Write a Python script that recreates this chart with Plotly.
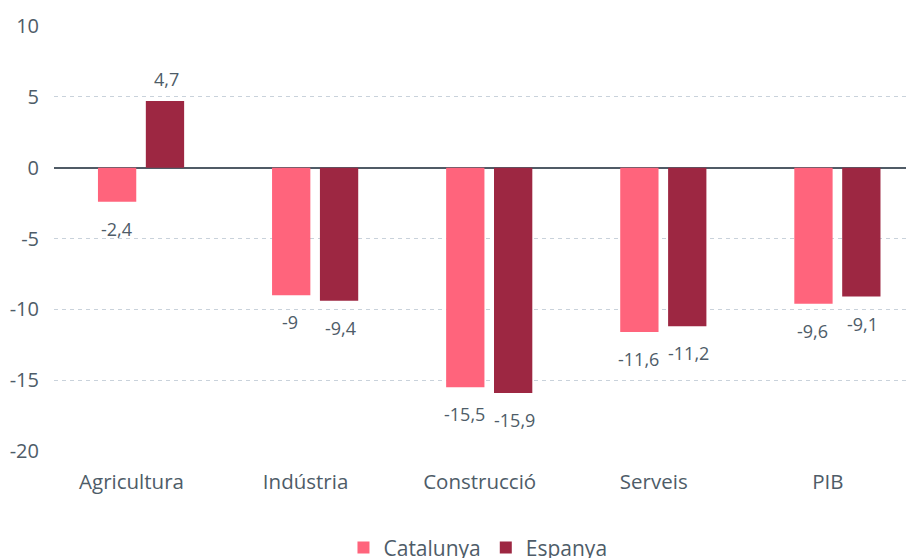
import plotly.graph_objects as go

categories = ["Agricultura", "Indústria", "Construcció", "Serveis", "PIB"]
catalunya = [-2.4, -9.0, -15.5, -11.6, -9.6]
espanya = [4.7, -9.4, -15.9, -11.2, -9.1]
y_ticks = [10, 5, 0, -5, -10, -15, -20]

C_CAT = "#ff647c"
C_ESP = "#9d2742"
TXT = "#4e5c68"
FONT = "Open Sans"

def fmt(v):
    s = ("%.1f" % v).rstrip("0").rstrip(".")
    return s.replace(".", ",")

xpos = list(range(len(categories)))

fig = go.Figure()
fig.add_trace(go.Bar(name="Catalunya", x=xpos, y=catalunya, marker=dict(color=C_CAT, line=dict(width=0))))
fig.add_trace(go.Bar(name="Espanya", x=xpos, y=espanya, marker=dict(color=C_ESP, line=dict(width=0))))

ann = []
for series, shift in ((catalunya, -25), (espanya, 25)):
    for xi, v in zip(xpos, series):
        ann.append(dict(x=xi, y=v, text=fmt(v), showarrow=False, xshift=shift,
                        yshift=(-27 if v < 0 else 22), yanchor="middle",
                        font=dict(family=FONT, size=18, color=TXT)))

fig.update_layout(
    width=914, height=558,
    margin=dict(l=46, r=8, t=18, b=115, autoexpand=False),
    plot_bgcolor="white", paper_bgcolor="white",
    barmode="group", bargap=0.45, bargroupgap=0.2,
    annotations=ann,
    showlegend=True,
    legend=dict(orientation="h", x=0.493, xanchor="center", y=-0.228, yanchor="middle",
                font=dict(family=FONT, size=21, color=TXT), itemwidth=30, tracegroupgap=0),
    font=dict(family=FONT, color=TXT),
)
fig.update_xaxes(range=[-0.5, 4.44], showgrid=False, showline=False, ticks="", zeroline=False,
                 tickvals=[i - 0.055 for i in xpos], ticktext=categories,
                 tickfont=dict(family=FONT, size=20.5, color=TXT), ticklabelstandoff=16)
fig.update_yaxes(range=[-20, 10], tickvals=y_ticks, ticktext=[str(v) for v in y_ticks],
                 showgrid=True, gridcolor="#c9d2db", griddash="4px,4px", gridwidth=1,
                 zeroline=True, zerolinecolor="#505b66", zerolinewidth=2,
                 showline=False, ticks="", tickfont=dict(family=FONT, size=20, color=TXT),
                 ticklabelstandoff=14)

fig.write_html("out.html")
